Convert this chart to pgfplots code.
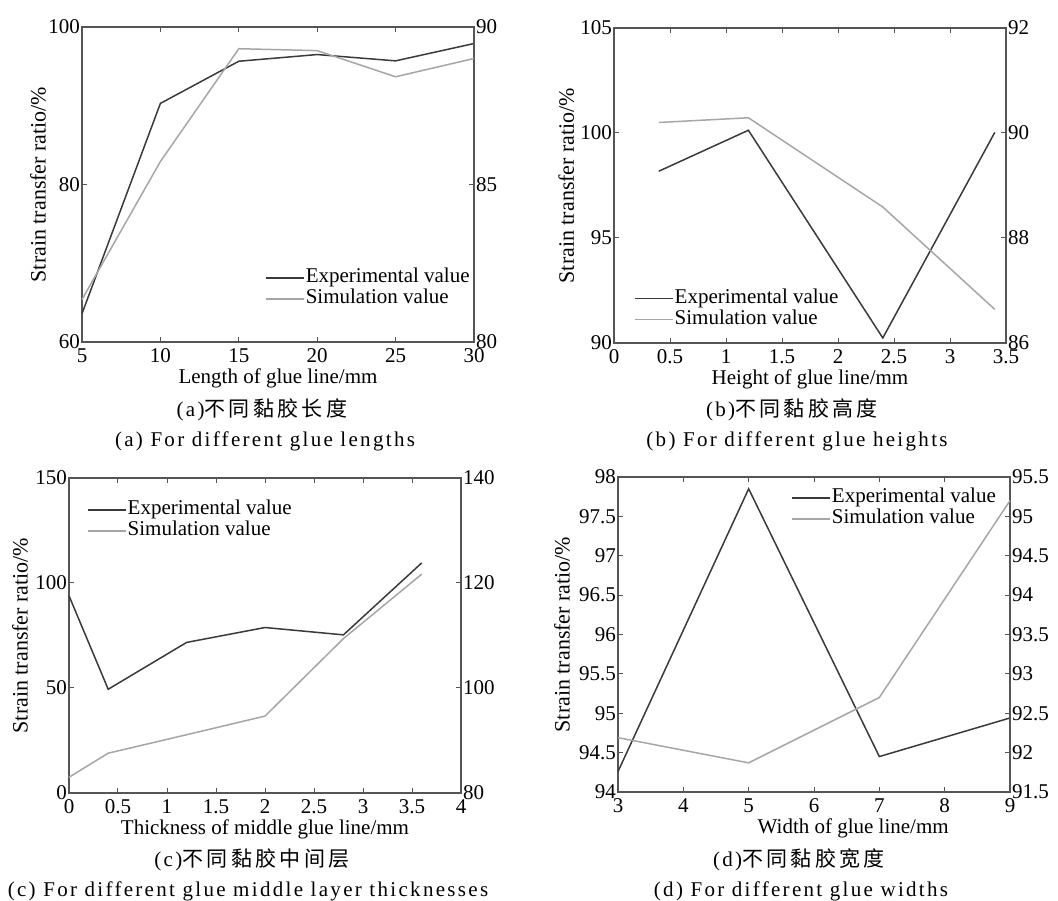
\documentclass[border=0pt]{standalone}
\usepackage{fontspec}
\setmainfont{Liberation Serif}
\newfontfamily\cjk[LetterSpace=16]{Noto Sans CJK SC}
\newfontfamily\capfont[LetterSpace=11]{Liberation Serif}
\usepackage{pgfplots}
\pgfplotsset{compat=1.18}

\definecolor{axgray}{HTML}{555555}
\definecolor{expcol}{HTML}{3A3A3A}
\definecolor{simcol}{HTML}{A6A6A6}

\pgfplotsset{
  base/.style={
    scale only axis, width=392pt, height=315pt,
    axis line style={draw=axgray, line width=1.4pt},
    tick style={draw=axgray, line width=1pt},
    tick align=inside, major tick length=5pt,
    /pgf/number format/assume math mode=true,
    /pgf/number format/fixed,
    tick label style={font=\fontsize{21}{24}\selectfont},
    yticklabel style={inner sep=2pt},
    xticklabel style={yshift=-3pt},
    label style={font=\fontsize{21}{24}\selectfont},
    clip=false,
  },
  leftax/.style={base, xtick pos=both, ytick pos=left,
    ylabel={Strain transfer ratio/\%},
    ylabel style={at={(axis description cs:-#1,0.5)}, anchor=center,
      font=\fontsize{22}{24}\selectfont},
    xlabel style={at={(axis description cs:0.5,-0.114)}, anchor=center}},
  rightax/.style={base, axis y line*=right, axis x line=none, ytick pos=right,
    legend cell align=left,
    legend image code/.code={\draw[##1] (0pt,0pt) -- (38pt,0pt);},
    legend style={draw=none, fill=none, anchor=north west, inner sep=0pt,
      font=\fontsize{21}{24}\selectfont, row sep=0pt,
      nodes={inner sep=1pt, text height=14pt, text depth=5pt}}},
  exp/.style={color=expcol, line width=1.5pt},
  sim/.style={color=simcol, line width=1.5pt},
}

\begin{document}
\begin{tikzpicture}
\useasboundingbox (0,0) rectangle (1058pt,900pt);

% ---------- (a) glue length ----------
\begin{axis}[leftax=0.112, at={(82pt,558pt)}, anchor=south west,
  xmin=5, xmax=30, ymin=60, ymax=100,
  xtick={5,10,...,30}, ytick={60,80,100},
  xlabel={Length of glue line/mm}]
  \addplot[exp] coordinates {(5,63.6) (10,90.3) (15,95.65) (20,96.5) (25,95.7) (30,97.9)};
\end{axis}
\begin{axis}[rightax, at={(82pt,558pt)}, anchor=south west,
  xmin=5, xmax=30, ymin=80, ymax=90, ytick={80,85,90},
  legend style={at={(0.467,0.237)}}]
  \addlegendimage{exp}\addlegendentry{Experimental value}
  \addplot[sim] coordinates {(5,81.35) (10,85.73) (15,89.31) (20,89.25) (25,88.42) (30,89.0)};
  \addlegendentry{Simulation value}
\end{axis}

% ---------- (b) glue height ----------
\begin{axis}[leftax=0.122, at={(614pt,557pt)}, anchor=south west,
  xmin=0, xmax=3.5, ymin=90, ymax=105,
  xtick={0,0.5,...,3.5}, ytick={90,95,100,105},
  xlabel={Height of glue line/mm}]
  \addplot[exp] coordinates {(0.4,98.18) (1.2,100.13) (2.4,90.24) (3.4,100.03)};
\end{axis}
\begin{axis}[rightax, at={(614pt,557pt)}, anchor=south west,
  xmin=0, xmax=3.5, ymin=86, ymax=92, ytick={86,88,90,92},
  legend style={at={(0.051,0.175)}}]
  \addlegendimage{exp}\addlegendentry{Experimental value}
  \addplot[sim] coordinates {(0.4,90.2) (1.2,90.29) (2.4,88.59) (3.4,86.64)};
  \addlegendentry{Simulation value}
\end{axis}

% ---------- (c) middle layer thickness ----------
\begin{axis}[leftax=0.125, at={(69pt,107pt)}, anchor=south west,
  xmin=0, xmax=4, ymin=0, ymax=150,
  xtick={0,0.5,...,4}, ytick={0,50,100,150},
  xlabel={Thickness of middle glue line/mm}]
  \addplot[exp] coordinates {(0,93.9) (0.4,49.4) (1.2,71.7) (2,78.8) (2.8,75.3) (3.6,109.6)};
\end{axis}
\begin{axis}[rightax, at={(69pt,107pt)}, anchor=south west,
  xmin=0, xmax=4, ymin=80, ymax=140, ytick={80,100,120,140},
  legend style={at={(0.046,0.933)}}]
  \addlegendimage{exp}\addlegendentry{Experimental value}
  \addplot[sim] coordinates {(0,83.0) (0.4,87.58) (1.2,91.1) (2,94.65) (2.8,109.4) (3.6,121.7)};
  \addlegendentry{Simulation value}
\end{axis}

% ---------- (d) glue width ----------
\begin{axis}[leftax=0.143, at={(618pt,108pt)}, anchor=south west,
  xmin=3, xmax=9, ymin=94, ymax=98,
  xtick={3,4,...,9}, ytick={94,94.5,...,98},
  xlabel={Width of glue line/mm},
  xlabel style={at={(axis description cs:0.6,-0.114)}}]
  \addplot[exp] coordinates {(3,94.26) (5,97.85) (7,94.45) (9,94.94)};
\end{axis}
\begin{axis}[rightax, at={(618pt,108pt)}, anchor=south west,
  xmin=3, xmax=9, ymin=91.5, ymax=95.5, ytick={91.5,92,...,95.5},
  legend style={at={(0.442,0.968)}}]
  \addlegendimage{exp}\addlegendentry{Experimental value}
  \addplot[sim] coordinates {(3,92.19) (5,91.87) (7,92.70) (9,95.20)};
  \addlegendentry{Simulation value}
\end{axis}

% ---------- captions ----------
\begin{scope}[every node/.style={inner sep=0pt, anchor=center}]
  \node at (262pt,490pt) {\fontsize{21}{24}\selectfont\capfont (a)\cjk 不同黏胶长度};
  \node at (265pt,459pt) {\fontsize{21}{24}\selectfont\capfont (a)\ For different glue lengths};
  \node at (792pt,490pt) {\fontsize{21}{24}\selectfont\capfont (b)\cjk 不同黏胶高度};
  \node at (797pt,459pt) {\fontsize{21}{24}\selectfont\capfont (b)\ For different glue heights};
  \node at (252pt,40pt) {\fontsize{21}{24}\selectfont\capfont (c)\cjk 不同黏胶中间层};
  \node at (248pt,9pt) {\fontsize{21}{24}\selectfont\capfont (c)\ For different glue middle layer thicknesses};
  \node at (799pt,40pt) {\fontsize{21}{24}\selectfont\capfont (d)\cjk 不同黏胶宽度};
  \node at (801pt,9pt) {\fontsize{21}{24}\selectfont\capfont (d)\ For different glue widths};
\end{scope}
\end{tikzpicture}
\end{document}
